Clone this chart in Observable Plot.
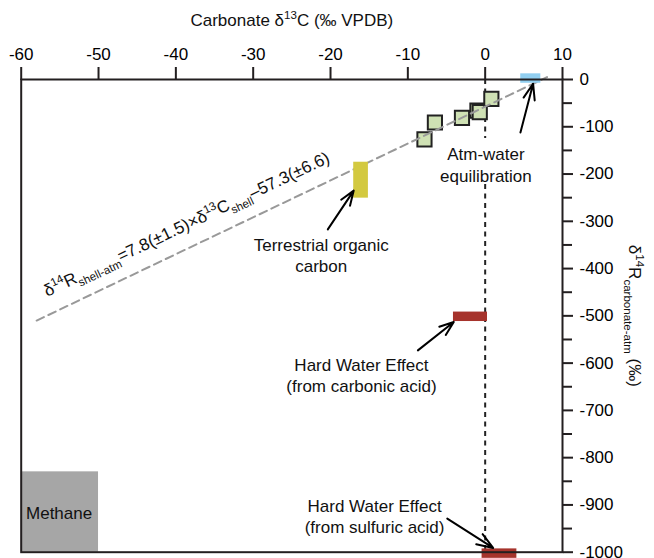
<!DOCTYPE html>
<html><head><meta charset="utf-8">
<script src="https://cdn.jsdelivr.net/npm/d3@7"></script>
<script src="https://cdn.jsdelivr.net/npm/@observablehq/plot@0.6"></script>
<style>
html,body{margin:0;padding:0;background:#fff}
svg{font-family:"Liberation Sans",Arial,Helvetica,sans-serif}
</style>
</head><body><div id="chart"></div>
<script>
// Tick values
const xTicks = [-60, -50, -40, -30, -20, -10, 0, 10];
const yTicks = [-1000, -900, -800, -700, -600, -500, -400, -300, -200, -100, 0];
const yMinorTicks = [-950, -850, -750, -650, -550, -450, -350, -250, -150, -50];

// Shell measurements (carbonate δ13C, δ14R)
const shellC = [-1.0, -0.7, 0.8, -3.0, -6.5, -7.85];
const shellR = [-66, -69, -41, -81, -91, -126.5];

// Regression line end points
const regX = [-58, 8];
const regY = [-510, 5];

// Vertical zero reference line (two visible pieces around the label)
const zeroY1 = [0, -222];
const zeroY2 = [-125, -1000];

// Source end-member boxes
const srcX1 = [4.6, -17.0, -4.1, -0.4, -60];
const srcX2 = [7.2, -15.1, 0.3, 4.1, -50];
const srcY1 = [-8, -251, -512, -1013, -1000];
const srcY2 = [12, -175, -492, -993, -830];
const srcColor = ["#92cff0", "#d3c940", "#a6332c", "#a6332c", "#a6a6a6"];

// Arrows
const arrX1 = [4.56, -20.35, -8.7, -4.9];
const arrY1 = [-112, -317, -573, -929];
const arrX2 = [6.2, -17.0, -4.06, 1.03];
const arrY2 = [-9, -235, -513, -991];

// Annotation labels
const noteText = ["Atm-water\nequilibration", "Terrestrial organic\ncarbon", "Hard Water Effect\n(from carbonic acid)", "Hard Water Effect\n(from sulfuric acid)", "Methane"];
const noteX = [0.1, -21.2, -16.0, -14.3, -55.1];
const noteY = [-179, -371, -625, -923.4, -915];

// Equation label
const eqText = ["δ14Rshell-atm=7.8(±1.5)×δ13Cshell–57.3(±6.6)"];
const eqX = [-38.6];
const eqY = [-306.7];

const titleX = "Carbonate δ13C (‰ VPDB)";
const titleY = "δ14Rcarbonate-atm (‰)";

const FS = 17;

const chart = Plot.plot({
  width: 654,
  height: 558,
  marginTop: 79,
  marginBottom: 6.3,
  marginLeft: 20.7,
  marginRight: 92,
  x: {domain: [-60, 10]},
  y: {domain: [-1000, 0]},
  style: {fontSize: FS + "px", color: "#000", background: "#fff", overflow: "visible"},
  marks: [
    Plot.ruleX(zeroY1, {x: 0, y1: zeroY1, y2: zeroY2, stroke: "#222", strokeWidth: 2, strokeDasharray: "5,4.5"}),
    Plot.dot(shellC, {x: shellC, y: shellR, symbol: "square", r: 8, fill: "#cfe1b4", stroke: "#222", strokeWidth: 2}),
    Plot.line(regX, {x: regX, y: regY, stroke: "#999", strokeWidth: 2, strokeDasharray: "8,5"}),
    Plot.rect(srcColor, {x1: srcX1, x2: srcX2, y1: srcY1, y2: srcY2, fill: srcColor}),
    Plot.arrow(arrX1, {x1: arrX1, y1: arrY1, x2: arrX2, y2: arrY2, stroke: "#000", strokeWidth: 2, headLength: 13, headAngle: 40}),
    Plot.text(noteText, {x: noteX, y: noteY, text: noteText, fontSize: FS, lineHeight: 1.25, fill: "#111"}),
    Plot.text(eqText, {x: eqX, y: eqY, text: eqText, rotate: -25.5, fontSize: FS, fill: "#111"}),
    Plot.text([titleX], {frameAnchor: "top", dy: -59, textAnchor: "middle", lineAnchor: "middle", text: d => d, fontSize: FS, fill: "#111"}),
    Plot.text([titleY], {frameAnchor: "right", dx: 72, rotate: 90, textAnchor: "middle", lineAnchor: "middle", text: d => d, fontSize: FS, fill: "#111"}),
    Plot.frame({stroke: "#231f20", strokeWidth: 2}),
    Plot.axisX(xTicks, {anchor: "top", tickSize: 13, tickPadding: 7, tickFormat: d => String(d), label: null, strokeWidth: 2, stroke: "#231f20", fontSize: FS}),
    Plot.axisY(yTicks, {anchor: "right", tickSize: 10, tickPadding: 7, tickFormat: d => String(d), label: null, strokeWidth: 2, stroke: "#231f20", fontSize: FS}),
    Plot.axisY(yMinorTicks, {anchor: "right", tickSize: 9, tickFormat: () => "", label: null, strokeWidth: 2, stroke: "#231f20"})
  ]
});

function richify(svg, plain, parts) {
  d3.select(svg).selectAll("text").filter(function() { return this.textContent === plain; }).each(function() {
    const el = d3.select(this);
    el.text(null);
    let cur = 0;
    for (const p of parts) {
      const target = p.s === "sup" ? -0.4 : p.s === "sub" ? 0.3 : 0;
      const ts = el.append("tspan").text(p.t);
      if (p.s) ts.attr("font-size", (FS * 0.68) + "px");
      const shift = (target - cur) * FS;
      if (shift !== 0) ts.attr("dy", shift);
      cur = target;
    }
  });
}

richify(chart, eqText[0], [
  {t: "δ"}, {t: "14", s: "sup"}, {t: "R"}, {t: "shell-atm", s: "sub"},
  {t: "=7.8(±1.5)×δ"}, {t: "13", s: "sup"}, {t: "C"}, {t: "shell", s: "sub"}, {t: "–57.3(±6.6)"}
]);
richify(chart, titleX, [{t: "Carbonate δ"}, {t: "13", s: "sup"}, {t: "C (‰ VPDB)"}]);
richify(chart, titleY, [{t: "δ"}, {t: "14", s: "sup"}, {t: "R"}, {t: "carbonate-atm", s: "sub"}, {t: " (‰)"}]);

document.getElementById("chart").appendChild(chart);
</script>
</body></html>
